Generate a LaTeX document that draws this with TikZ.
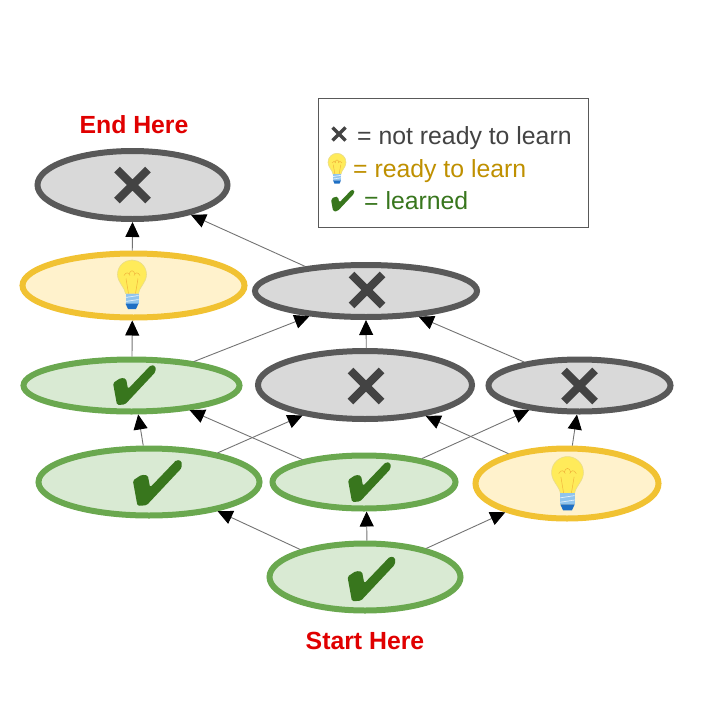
\documentclass[tikz,border=0pt]{standalone}
\usepackage{fontspec}
\setmainfont{Liberation Sans}
\usetikzlibrary{shapes.geometric,arrows.meta}
\definecolor{gfill}{HTML}{D9EAD3}\definecolor{gline}{HTML}{6AA84F}\definecolor{gdark}{HTML}{38761D}
\definecolor{yfill}{HTML}{FFF2CC}\definecolor{yline}{HTML}{F1C232}\definecolor{ytext}{HTML}{BF9000}
\definecolor{xfill}{HTML}{D9D9D9}\definecolor{xline}{HTML}{595959}\definecolor{xdark}{HTML}{434343}
\definecolor{redtxt}{HTML}{E00000}
\definecolor{bulbglass}{HTML}{FFEB5A}\definecolor{bulbedge}{HTML}{E8DC8C}\definecolor{bulbwire}{HTML}{F2B63C}
\definecolor{bulbbase}{HTML}{8FC4EE}\definecolor{bulbcap}{HTML}{1E6FC4}
\tikzset{
  x=1pt,y=-1pt,
  state/.style={ellipse,draw,line width=6pt,inner sep=0pt},
  learned/.style={state,draw=gline,fill=gfill},
  ready/.style={state,draw=yline,fill=yfill},
  notready/.style={state,draw=xline,fill=xfill},
  link/.style={draw=black!55,line width=0.9pt,-{Triangle[length=15pt,width=14pt,color=black]}},
  legendtext/.style={anchor=base west,inner sep=0pt,font=\fontsize{24.8}{25}\selectfont},
  heading/.style={text=redtxt,inner sep=0pt,font=\fontsize{24.8}{25}\selectfont\bfseries},
  pics/crossmark/.style args={#1/#2}{code={
    \draw[xdark,line width=#2pt,line cap=butt] (-#1,-#1) -- (#1,#1) (-#1,#1) -- (#1,-#1);}},
  pics/checkmark/.style={code={
    \fill[gdark,rounded corners=1.6pt,scale=#1]
      (-13.5,-8) -- (-8,-7.5) -- (-6,3) -- (17,-21) -- (21.5,-20) -- (21.5,-14) -- (-9,18.5) -- (-17,19) -- (-21,-3) -- cycle;}},
  pics/bulb/.style={code={
    \begin{scope}[scale=#1]
      \path[fill=bulbglass,draw=bulbedge,line width=0.6pt]
        (-6.5,9) .. controls (-7,3) and (-14.5,-2) .. (-14.5,-10)
        .. controls (-14.5,-19) and (-7,-24.5) .. (0,-24.5)
        .. controls (7,-24.5) and (14.5,-19) .. (14.5,-10)
        .. controls (14.5,-2) and (7,3) .. (6.5,9) -- cycle;
      \draw[bulbwire,line width=0.5pt,fill=none]
        (-3.5,9) -- (-6,-6) (3.5,9) -- (6,-6)
        (-8,-9) .. controls (-6,-13) and (-3,-12) .. (-2,-9) (2,-9) .. controls (3,-12) and (6,-13) .. (8,-9)
        (-3,-10) .. controls (-2,-15) and (2,-15) .. (3,-10);
      \fill[bulbbase] (-6.5,9) rectangle (6.5,19);
      \fill[bulbcap] (-6.5,19) -- (6.5,19) -- (4,24.5) -- (-4,24.5) -- cycle;
      \draw[white!75!bulbbase,line width=0.7pt] (-6.5,13) -- (6.5,11) (-6.5,17) -- (6.5,15);
    \end{scope}}}
}
\begin{document}
\begin{tikzpicture}
\useasboundingbox (0,0) rectangle (720,720);
% states
\node[notready,minimum width=190pt,minimum height=68pt] (top) at (132.5,185) {};
\node[ready,minimum width=222pt,minimum height=64pt] (bulbL) at (133.5,285.5) {};
\node[notready,minimum width=222pt,minimum height=52pt] (xU) at (366,291) {};
\node[learned,minimum width=216pt,minimum height=52pt] (gL) at (131.5,385.5) {};
\node[notready,minimum width=214pt,minimum height=68pt] (xM) at (365,385) {};
\node[notready,minimum width=182pt,minimum height=52pt] (xR) at (579.5,385.5) {};
\node[learned,minimum width=221pt,minimum height=67pt] (gA) at (149,482) {};
\node[learned,minimum width=183pt,minimum height=53pt] (gB) at (364,482) {};
\node[ready,minimum width=183pt,minimum height=70pt] (bulbR) at (567,483.5) {};
\node[learned,minimum width=191pt,minimum height=67pt] (start) at (365,577) {};
% connectors
\path[link] (bulbL.92) -- (top.-90);
\path[link] (xU.158) -- (top.-27);
\path[link] (gL.89) -- (bulbL.-92);
\path[link] (gL.21) -- (xU.204);
\path[link] (xM.88) -- (xU.-90);
\path[link] (xR.157) -- (xU.-26);
\path[link] (gA.99) -- (gL.-77);
\path[link] (gA.23) -- (xM.206);
\path[link] (gB.160) -- (gL.-23);
\path[link] (gB.22) -- (xR.206);
\path[link] (bulbR.153) -- (xM.-27);
\path[link] (bulbR.82) -- (xR.-95);
\path[link] (start.157) -- (gA.-23.5);
\path[link] (start.87.5) -- (gB.-85);
\path[link] (start.25) -- (bulbR.205);
% marks
\pic at (132.5,185) {crossmark={15.5/8}};
\pic at (367,290) {crossmark={15.5/8}};
\pic at (366,386) {crossmark={15.5/8}};
\pic at (579.5,386) {crossmark={15.5/8}};
\pic at (132,284.5) {bulb=1};
\pic at (567.5,483.5) {bulb=1.1};
\pic at (134,386) {checkmark=1};
\pic at (157,484) {checkmark=1.15};
\pic at (369,483) {checkmark=1};
\pic at (371,580) {checkmark=1.12};
% headings
\node[heading] (endlabel) at (134,125) {End Here};
\node[heading] (startlabel) at (365,641) {Start Here};
% legend
\node[draw=xline,line width=1pt,fill=white,minimum width=270pt,minimum height=129pt,inner sep=0pt] (legend) at (453,162.5) {};
\pic at (339,134) {crossmark={6.5/3.5}};
\pic at (337,168.5) {bulb=0.62};
\pic at (342.5,201) {checkmark=0.55};
\node[legendtext,text=xdark] (l1) at (357,144) {= not ready to learn};
\node[legendtext,text=ytext] (l2) at (353,177) {= ready to learn};
\node[legendtext,text=gdark] (l3) at (364,209) {= learned};
\end{tikzpicture}
\end{document}
